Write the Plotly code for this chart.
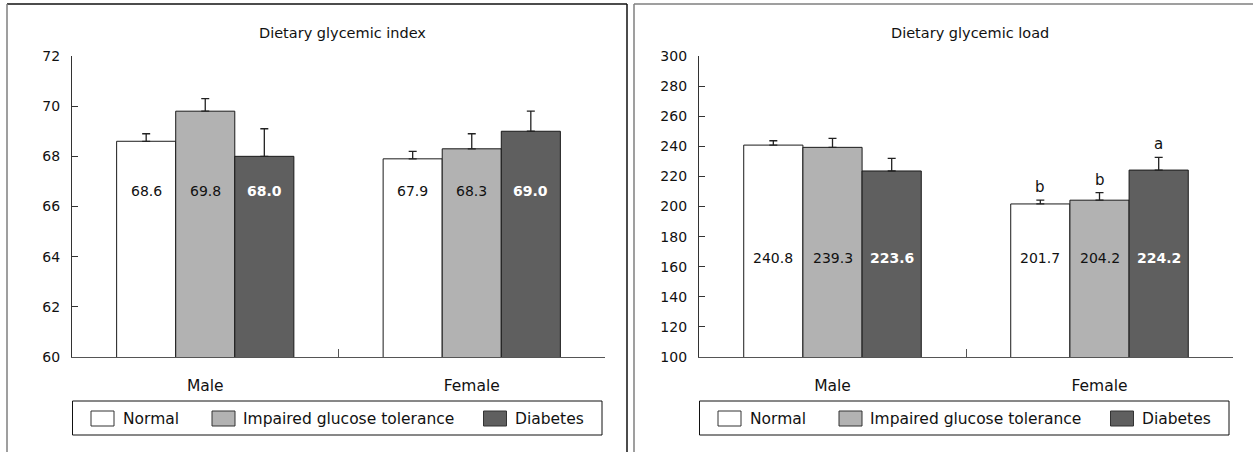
import plotly.graph_objects as go

# ---------------- data ----------------
groups = ["Male", "Female"]
series_names = ["Normal", "Impaired glucose tolerance", "Diabetes"]

gi_normal = [68.6, 67.9]
gi_igt = [69.8, 68.3]
gi_diab = [68.0, 69.0]
gi_err_normal = [0.3, 0.3]
gi_err_igt = [0.5, 0.6]
gi_err_diab = [1.1, 0.8]

gl_normal = [240.8, 201.7]
gl_igt = [239.3, 204.2]
gl_diab = [223.6, 224.2]
gl_err_normal = [2.9, 2.5]
gl_err_igt = [6.0, 5.0]
gl_err_diab = [8.4, 8.5]
gl_letters_normal = ["", "b"]
gl_letters_igt = ["", "b"]
gl_letters_diab = ["", "a"]

gi_ticks = [60, 62, 64, 66, 68, 70, 72]
gl_ticks = [100, 120, 140, 160, 180, 200, 220, 240, 260, 280, 300]

titles = ["Dietary glycemic index", "Dietary glycemic load"]

# ---------------- style ----------------
W, H = 1253, 452
FONT = "DejaVu Sans"
fills = ["#ffffff", "#b2b2b2", "#5f5f5f"]
BARGAP = 0.335
AX_LEFT = [72, 699]
AX_RIGHT = [605, 1233]
AX_TOP, AX_BOT = 56, 357
LABEL_Y = [66.6, 165.7]


def px(x):
    return x / W


def py(y):
    return 1 - y / H


fig = go.Figure()

panels = [
    dict(vals=[gi_normal, gi_igt, gi_diab], errs=[gi_err_normal, gi_err_igt, gi_err_diab],
         letters=None, xa="x", ya="y"),
    dict(vals=[gl_normal, gl_igt, gl_diab], errs=[gl_err_normal, gl_err_igt, gl_err_diab],
         letters=[gl_letters_normal, gl_letters_igt, gl_letters_diab], xa="x2", ya="y2"),
]

annotations = []
shapes = []

for p_i, p in enumerate(panels):
    cat_px = (AX_RIGHT[p_i] - AX_LEFT[p_i]) / len(groups)
    bar_px = cat_px * (1 - BARGAP) / len(series_names)
    for s_i, name in enumerate(series_names):
        fig.add_trace(go.Bar(
            x=groups, y=p["vals"][s_i], name=name, showlegend=False,
            xaxis=p["xa"], yaxis=p["ya"],
            marker=dict(color=fills[s_i], line=dict(color="#1a1a1a", width=1)),
            error_y=dict(type="data", symmetric=False, array=p["errs"][s_i],
                         arrayminus=[0] * len(groups), color="#222222",
                         thickness=1.3, width=4),
        ))
        shift = (s_i - 1) * bar_px
        for g_i, g in enumerate(groups):
            v = p["vals"][s_i][g_i]
            bold = s_i == 2
            annotations.append(dict(
                xref=p["xa"], yref=p["ya"], x=g, y=LABEL_Y[p_i], xshift=shift,
                text=(f"<b>{v:.1f}</b>" if bold else f"{v:.1f}"), showarrow=False,
                font=dict(family=FONT, size=14, color="#ffffff" if bold else "#111111"),
            ))
            if p["letters"] and p["letters"][s_i][g_i]:
                annotations.append(dict(
                    xref=p["xa"], yref=p["ya"], x=g,
                    y=v + p["errs"][s_i][g_i], yanchor="bottom", yshift=2, xshift=shift,
                    text=p["letters"][s_i][g_i], showarrow=False,
                    font=dict(family=FONT, size=15, color="#111111"),
                ))
    # boundary tick axis trace (empty)
    fig.add_trace(go.Scatter(x=[], y=[], xaxis="x%d" % (p_i + 3), yaxis=p["ya"],
                             showlegend=False, hoverinfo="skip"))
    # title
    annotations.append(dict(
        xref="paper", yref="paper", x=px((AX_LEFT[p_i] + AX_RIGHT[p_i]) / 2 + 4), y=py(33),
        text=titles[p_i], showarrow=False, xanchor="center", yanchor="middle",
        font=dict(family=FONT, size=14.5, color="#111111"),
    ))
    # legend (custom, matching the reference's large swatches)
    lx = AX_LEFT[p_i]
    shapes.append(dict(type="rect", xref="paper", yref="paper",
                       x0=px(lx + 0.5), x1=px(lx + 530), y0=py(435), y1=py(401),
                       line=dict(color="#111111", width=1), fillcolor="rgba(0,0,0,0)"))
    sw_off = [19, 140, 411.5]
    txt_off = [48.5, 169, 440.5]
    for s_i, name in enumerate(series_names):
        shapes.append(dict(type="rect", xref="paper", yref="paper",
                           x0=px(lx + sw_off[s_i]), x1=px(lx + sw_off[s_i] + 23),
                           y0=py(426), y1=py(411),
                           line=dict(color="#333333", width=1), fillcolor=fills[s_i]))
        annotations.append(dict(
            xref="paper", yref="paper", x=px(lx + txt_off[s_i]), y=py(418.5),
            xanchor="left", yanchor="middle", text=name, showarrow=False,
            font=dict(family=FONT, size=15.5, color="#111111"),
        ))

# panel frames
shapes += [
    dict(type="line", xref="paper", yref="paper", x0=px(7), x1=px(627), y0=py(4), y1=py(4),
         line=dict(color="#111111", width=1.5)),
    dict(type="line", xref="paper", yref="paper", x0=px(7), x1=px(7), y0=py(4), y1=py(460),
         line=dict(color="#7f7f7f", width=1.5)),
    dict(type="line", xref="paper", yref="paper", x0=px(627), x1=px(627), y0=py(4), y1=py(460),
         line=dict(color="#111111", width=1.5)),
    dict(type="line", xref="paper", yref="paper", x0=px(634), x1=px(1260), y0=py(4), y1=py(4),
         line=dict(color="#7f7f7f", width=1.5)),
    dict(type="line", xref="paper", yref="paper", x0=px(634), x1=px(634), y0=py(4), y1=py(460),
         line=dict(color="#7f7f7f", width=1.5)),
]

common_x = dict(type="category", range=[-0.5, 1.5], showgrid=False, zeroline=False,
                showline=True, linecolor="#555555", linewidth=1.2, ticks="",
                ticklabelstandoff=14, tickfont=dict(family=FONT, size=15.5, color="#111111"),
                fixedrange=True, automargin=False)
common_y = dict(showgrid=False, zeroline=False, showline=True, linecolor="#333333",
                linewidth=1.2, ticks="inside", ticklen=6, tickcolor="#333333",
                tickwidth=1.2, ticklabelstandoff=8,
                tickfont=dict(family=FONT, size=14, color="#111111"), fixedrange=True,
                automargin=False)
bound_x = dict(type="linear", range=[-0.5, 1.5], tickvals=[0.5], ticks="inside", ticklen=8,
               tickcolor="#555555", tickwidth=1.2, showticklabels=False, showgrid=False,
               zeroline=False, showline=False, fixedrange=True, automargin=False)

fig.update_layout(
    template="none",
    width=W, height=H, margin=dict(l=0, r=0, t=0, b=0, pad=0), autosize=False,
    paper_bgcolor="#ffffff", plot_bgcolor="#ffffff",
    barmode="group", bargap=BARGAP, bargroupgap=0, showlegend=False,
    xaxis=dict(common_x, domain=[px(AX_LEFT[0]), px(AX_RIGHT[0])], anchor="y"),
    xaxis2=dict(common_x, domain=[px(AX_LEFT[1]), px(AX_RIGHT[1])], anchor="y2"),
    xaxis3=dict(bound_x, overlaying="x", anchor="y"),
    xaxis4=dict(bound_x, overlaying="x2", anchor="y2"),
    yaxis=dict(common_y, domain=[py(AX_BOT), py(AX_TOP)], range=[60, 72],
               tickvals=gi_ticks, anchor="x"),
    yaxis2=dict(common_y, domain=[py(AX_BOT), py(AX_TOP)], range=[100, 300],
                tickvals=gl_ticks, anchor="x2"),
    annotations=annotations, shapes=shapes,
    font=dict(family=FONT, color="#111111"),
)

fig.write_html(
    "out.html",
    config={"displayModeBar": False},
    post_script="document.body.style.margin='0px';document.body.style.overflow='hidden';",
)
